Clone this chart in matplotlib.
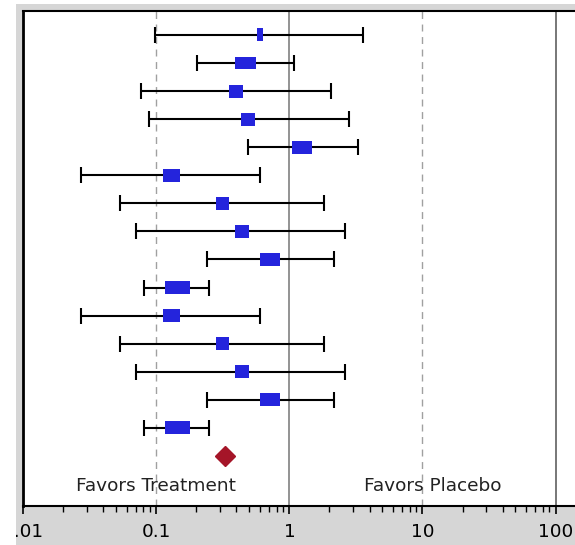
import numpy as np
import matplotlib
matplotlib.use('Agg')
import matplotlib.pyplot as plt
from matplotlib.patches import Rectangle
from matplotlib.transforms import Bbox

# forest plot data (odds ratio, 95% CI), top to bottom
est   = [0.60, 0.47, 0.40, 0.49, 1.25, 0.130, 0.316, 0.437, 0.716, 0.144,
         0.130, 0.316, 0.437, 0.716, 0.144]
lower = [0.097, 0.202, 0.077, 0.088, 0.487, 0.0273, 0.0536, 0.070, 0.2415, 0.0813,
         0.0273, 0.0536, 0.070, 0.2415, 0.0813]
upper = [3.6, 1.08, 2.07, 2.78, 3.30, 0.60, 1.83, 2.61, 2.18, 0.248,
         0.60, 1.83, 2.61, 2.18, 0.248]
# study weight -> box width (in decades)
weight = [0.05, 0.16, 0.105, 0.105, 0.15, 0.13, 0.10, 0.105, 0.15, 0.19,
          0.13, 0.10, 0.105, 0.15, 0.19]
overall = 0.329
tick_vals = [0.01, 0.1, 1, 10, 100]
tick_labels = ['0.01', '0.1', '1', '10', '100']

fig = plt.figure(figsize=(5.75, 5.45), dpi=100)
fig.patch.set_facecolor('white')
# grey panel behind the plot (picture is a crop of a bigger panel)
px0, py1 = 16 / 575, (545 - 4) / 545
fig.patches.append(Rectangle((px0, 0), 1 - px0, py1, transform=fig.transFigure,
                             facecolor='#d6d6d6', edgecolor='none', zorder=-1))

ax = fig.add_axes([0.0405, 0.0716, 0.9595, 0.9084])
ax.set_facecolor('white')
ax.set_xscale('log')

y = np.arange(1, len(est) + 1)
est_a = np.array(est)
lo = np.array(lower)
hi = np.array(upper)

ax.axvline(0.1, color='#a0a0a0', lw=1, ls=(0, (5, 4)), zorder=1)
ax.axvline(10, color='#a0a0a0', lw=1, ls=(0, (5, 4)), zorder=1)
ax.axvline(1, color='#808080', lw=1.2, zorder=1)
ax.axvline(100, color='#606060', lw=1.2, zorder=1)

ax.errorbar(est_a, y, xerr=[est_a - lo, hi - est_a], fmt='none', ecolor='black',
            elinewidth=1.5, capsize=6, capthick=1.5, zorder=2)

half = 10 ** (np.array(weight) / 2)
ax.barh(y, est_a * half - est_a / half, left=est_a / half, height=0.46,
        color='#2424dc', zorder=3)

ax.plot([overall], [len(est) + 1], marker='D', markersize=10.5,
        color='#a51528', ls='none', zorder=3)

ax.text(0.1, 17.07, 'Favors Treatment', ha='center', va='center', fontsize=13.3, color='#222222')
ax.text(12, 17.07, 'Favors Placebo', ha='center', va='center', fontsize=13.3, color='#222222')

ax.set_xlim(0.01, 140)
ax.set_ylim(17.78, 0.145)
ax.set_yticks([])
ax.set_xticks(tick_vals)
ax.set_xticklabels(tick_labels)
ax.tick_params(axis='x', which='major', length=6, width=1.2, labelsize=13.3, pad=6, colors='black')
ax.tick_params(axis='x', which='minor', length=4, width=1)

ax.spines['right'].set_visible(False)
ax.spines['left'].set_linewidth(2)
ax.spines['top'].set_linewidth(1.5)
ax.spines['bottom'].set_linewidth(1.5)

# clip tick labels to the grey panel
clip = Bbox.from_extents(16, 0, 575, 545)
for lab in ax.get_xticklabels():
    lab.set_clip_box(clip)
    lab.set_clip_on(True)

fig.savefig('out.png', dpi=100, facecolor=fig.get_facecolor())
